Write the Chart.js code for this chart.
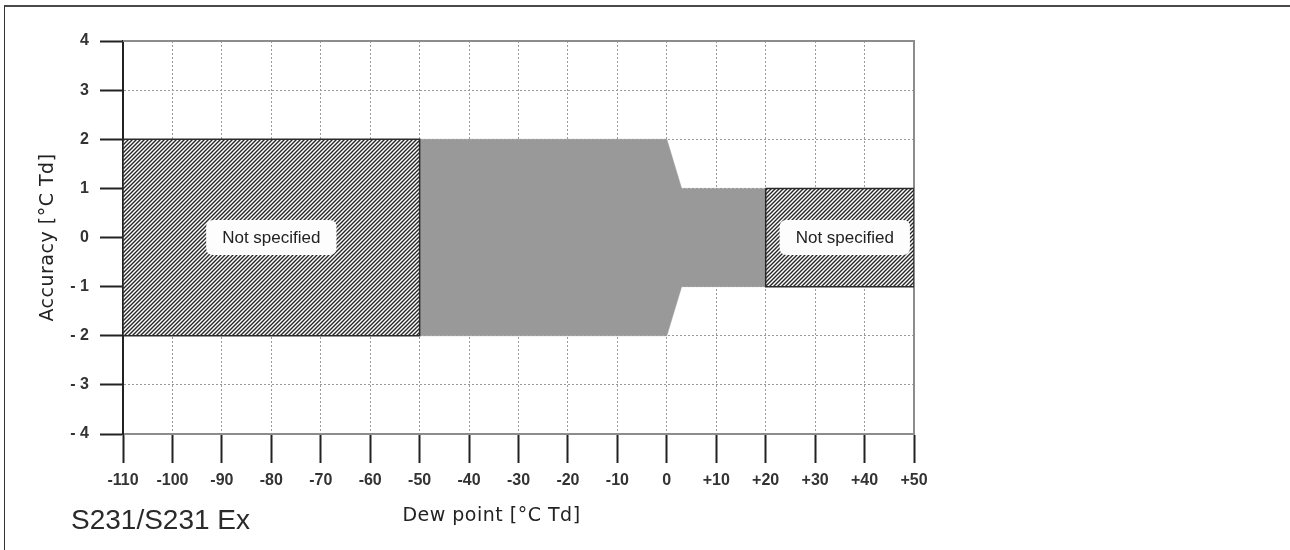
<!DOCTYPE html>
<html>
<head>
<meta charset="utf-8">
<script src="https://cdn.jsdelivr.net/npm/chart.js@4.4.1/dist/chart.umd.min.js"></script>
<style>
html,body{margin:0;padding:0;background:#fff;}
#wrap{position:relative;width:1290px;height:550px;overflow:hidden;background:#fff;}
#frame{position:absolute;left:4px;top:5px;right:0;bottom:0;border-top:2px solid #4a4a4a;border-left:1px solid #333;pointer-events:none;}
canvas{position:absolute;left:0;top:0;}
</style>
</head>
<body>
<div id="wrap"><canvas id="c" width="1290" height="550"></canvas><div id="frame"></div></div>
<script>
// ---- data ----
const xTicks = [-110, -100, -90, -80, -70, -60, -50, -40, -30, -20, -10, 0, 10, 20, 30, 40, 50];
const xTickLabels = ['-110', '-100', '-90', '-80', '-70', '-60', '-50', '-40', '-30', '-20', '-10', '0', '+10', '+20', '+30', '+40', '+50'];
const yTicks = [-4, -3, -2, -1, 0, 1, 2, 3, 4];
const yTickLabels = ['- 4', '- 3', '- 2', '- 1', '0', '1', '2', '3', '4'];

// specified accuracy band (grey)
const bandX = [-50, 0, 3, 20, 20, 3, 0, -50];
const bandY = [2, 2, 1, 1, -1, -1, -2, -2];
// "not specified" regions (hatched)
const lowRegionX = [-110, -50, -50, -110];
const lowRegionY = [2, 2, -2, -2];
const highRegionX = [20, 50, 50, 20];
const highRegionY = [1, 1, -1, -1];

const noteTexts = ['Not specified', 'Not specified'];
const noteX = [-80, 36];
const noteY = [0, 0];

const xTitle = 'Dew point [°C Td]';
const yTitle = 'Accuracy [°C Td]';
const modelName = 'S231/S231 Ex';

// ---- helpers ----
function closedPoly(xs, ys) {
  const pts = xs.map((x, i) => ({x: x, y: ys[i]}));
  pts.push({x: xs[0], y: ys[0]});
  return pts;
}
function makeHatch() {
  const s = 4;
  const c = document.createElement('canvas');
  c.width = s; c.height = s;
  const g = c.getContext('2d');
  g.fillStyle = '#ffffff';
  g.fillRect(0, 0, s, s);
  g.strokeStyle = '#262626';
  g.lineWidth = 1.4;
  g.beginPath();
  g.moveTo(-1, s + 1); g.lineTo(s + 1, -1);
  g.moveTo(-1, 1); g.lineTo(1, -1);
  g.moveTo(s - 1, s + 1); g.lineTo(s + 1, s - 1);
  g.stroke();
  return g.createPattern(c, 'repeat');
}
const hatch = makeHatch();

const tickFont = {family: '"Liberation Sans", Arial, sans-serif', size: 16, weight: 'bold'};

const decor = {
  id: 'decor',
  beforeDatasetsDraw(chart) {
    const {ctx, chartArea: a} = chart;
    ctx.save();
    ctx.strokeStyle = '#8c8c8c';
    ctx.lineWidth = 2;
    ctx.beginPath();
    ctx.moveTo(a.left, a.top);
    ctx.lineTo(a.right, a.top);
    ctx.lineTo(a.right, a.bottom);
    ctx.stroke();
    ctx.restore();
  },
  afterDatasetsDraw(chart) {
    const {ctx, scales: {x, y}} = chart;
    ctx.save();
    ctx.font = '17px "Liberation Sans", Arial, sans-serif';
    ctx.textAlign = 'center';
    ctx.textBaseline = 'middle';
    noteTexts.forEach((t, i) => {
      const px = x.getPixelForValue(noteX[i]);
      const py = y.getPixelForValue(noteY[i]);
      const w = ctx.measureText(t).width + 32;
      const h = 35;
      const l = px - w / 2, tp = py - h / 2, r = 7;
      ctx.beginPath();
      ctx.moveTo(l + r, tp);
      ctx.lineTo(l + w - r, tp);
      ctx.quadraticCurveTo(l + w, tp, l + w, tp + r);
      ctx.lineTo(l + w, tp + h - r);
      ctx.quadraticCurveTo(l + w, tp + h, l + w - r, tp + h);
      ctx.lineTo(l + r, tp + h);
      ctx.quadraticCurveTo(l, tp + h, l, tp + h - r);
      ctx.lineTo(l, tp + r);
      ctx.quadraticCurveTo(l, tp, l + r, tp);
      ctx.closePath();
      ctx.fillStyle = '#fdfdfd';
      ctx.fill();
      ctx.fillStyle = '#222';
      ctx.fillText(t, px, py + 1);
    });
    ctx.restore();
  },
  afterDraw(chart) {
    const {ctx, chartArea: a} = chart;
    ctx.save();
    ctx.fillStyle = '#222';
    try { ctx.letterSpacing = '0.5px'; } catch (e) {}
    ctx.font = '19px "DejaVu Sans", Verdana, sans-serif';
    ctx.textAlign = 'center';
    ctx.textBaseline = 'alphabetic';
    ctx.fillText(xTitle, (a.left + a.right) / 2 - 27, 521);
    ctx.save();
    ctx.translate(53, (a.top + a.bottom) / 2);
    ctx.rotate(-Math.PI / 2);
    ctx.fillText(yTitle, 0, 0);
    ctx.restore();
    try { ctx.letterSpacing = '0px'; } catch (e) {}
    ctx.font = '28px "Liberation Sans", Arial, sans-serif';
    ctx.textAlign = 'left';
    ctx.fillStyle = '#2a2a2a';
    ctx.fillText(modelName, 71, 529);
    ctx.restore();
  }
};

new Chart(document.getElementById('c'), {
  type: 'scatter',
  data: {
    datasets: [
      {
        data: closedPoly(lowRegionX, lowRegionY),
        showLine: true, fill: 'shape', backgroundColor: hatch,
        borderColor: '#2a2a2a', borderWidth: 1.5, pointRadius: 0, tension: 0
      },
      {
        data: closedPoly(highRegionX, highRegionY),
        showLine: true, fill: 'shape', backgroundColor: hatch,
        borderColor: '#2a2a2a', borderWidth: 1.5, pointRadius: 0, tension: 0
      },
      {
        data: closedPoly(bandX, bandY),
        showLine: true, fill: 'shape', backgroundColor: '#999999',
        borderColor: '#999999', borderWidth: 0.5, pointRadius: 0, tension: 0
      }
    ]
  },
  options: {
    responsive: false,
    animation: false,
    events: [],
    layout: {padding: {left: 20, right: 376, top: 41, bottom: 0}},
    plugins: {legend: {display: false}, tooltip: {enabled: false}},
    scales: {
      x: {
        type: 'linear', min: -110, max: 50,
        afterBuildTicks: axis => { axis.ticks = xTicks.map(v => ({value: v})); },
        afterFit: axis => { axis.height = 116; },
        ticks: {
          autoSkip: false, maxRotation: 0, minRotation: 0, padding: 8, color: '#333', font: tickFont,
          callback: v => { const i = xTicks.indexOf(v); return i >= 0 ? xTickLabels[i] : ''; }
        },
        grid: {color: '#9a9a9a', lineWidth: 1, tickLength: 29, tickColor: '#222', tickWidth: 2, tickBorderDash: []},
        border: {color: '#8c8c8c', width: 2, dash: [2, 2]}
      },
      y: {
        type: 'linear', min: -4, max: 4,
        afterBuildTicks: axis => { axis.ticks = yTicks.map(v => ({value: v})); },
        afterFit: axis => { axis.width = 103; },
        ticks: {
          autoSkip: false, padding: 11, color: '#333', font: tickFont,
          callback: v => { const i = yTicks.indexOf(v); return i >= 0 ? yTickLabels[i] : ''; }
        },
        grid: {color: '#9a9a9a', lineWidth: 1, tickLength: 23, tickColor: '#222', tickWidth: 2, tickBorderDash: []},
        border: {color: '#222', width: 2, dash: [2, 2]}
      }
    }
  },
  plugins: [decor]
});
</script>
</body>
</html>
